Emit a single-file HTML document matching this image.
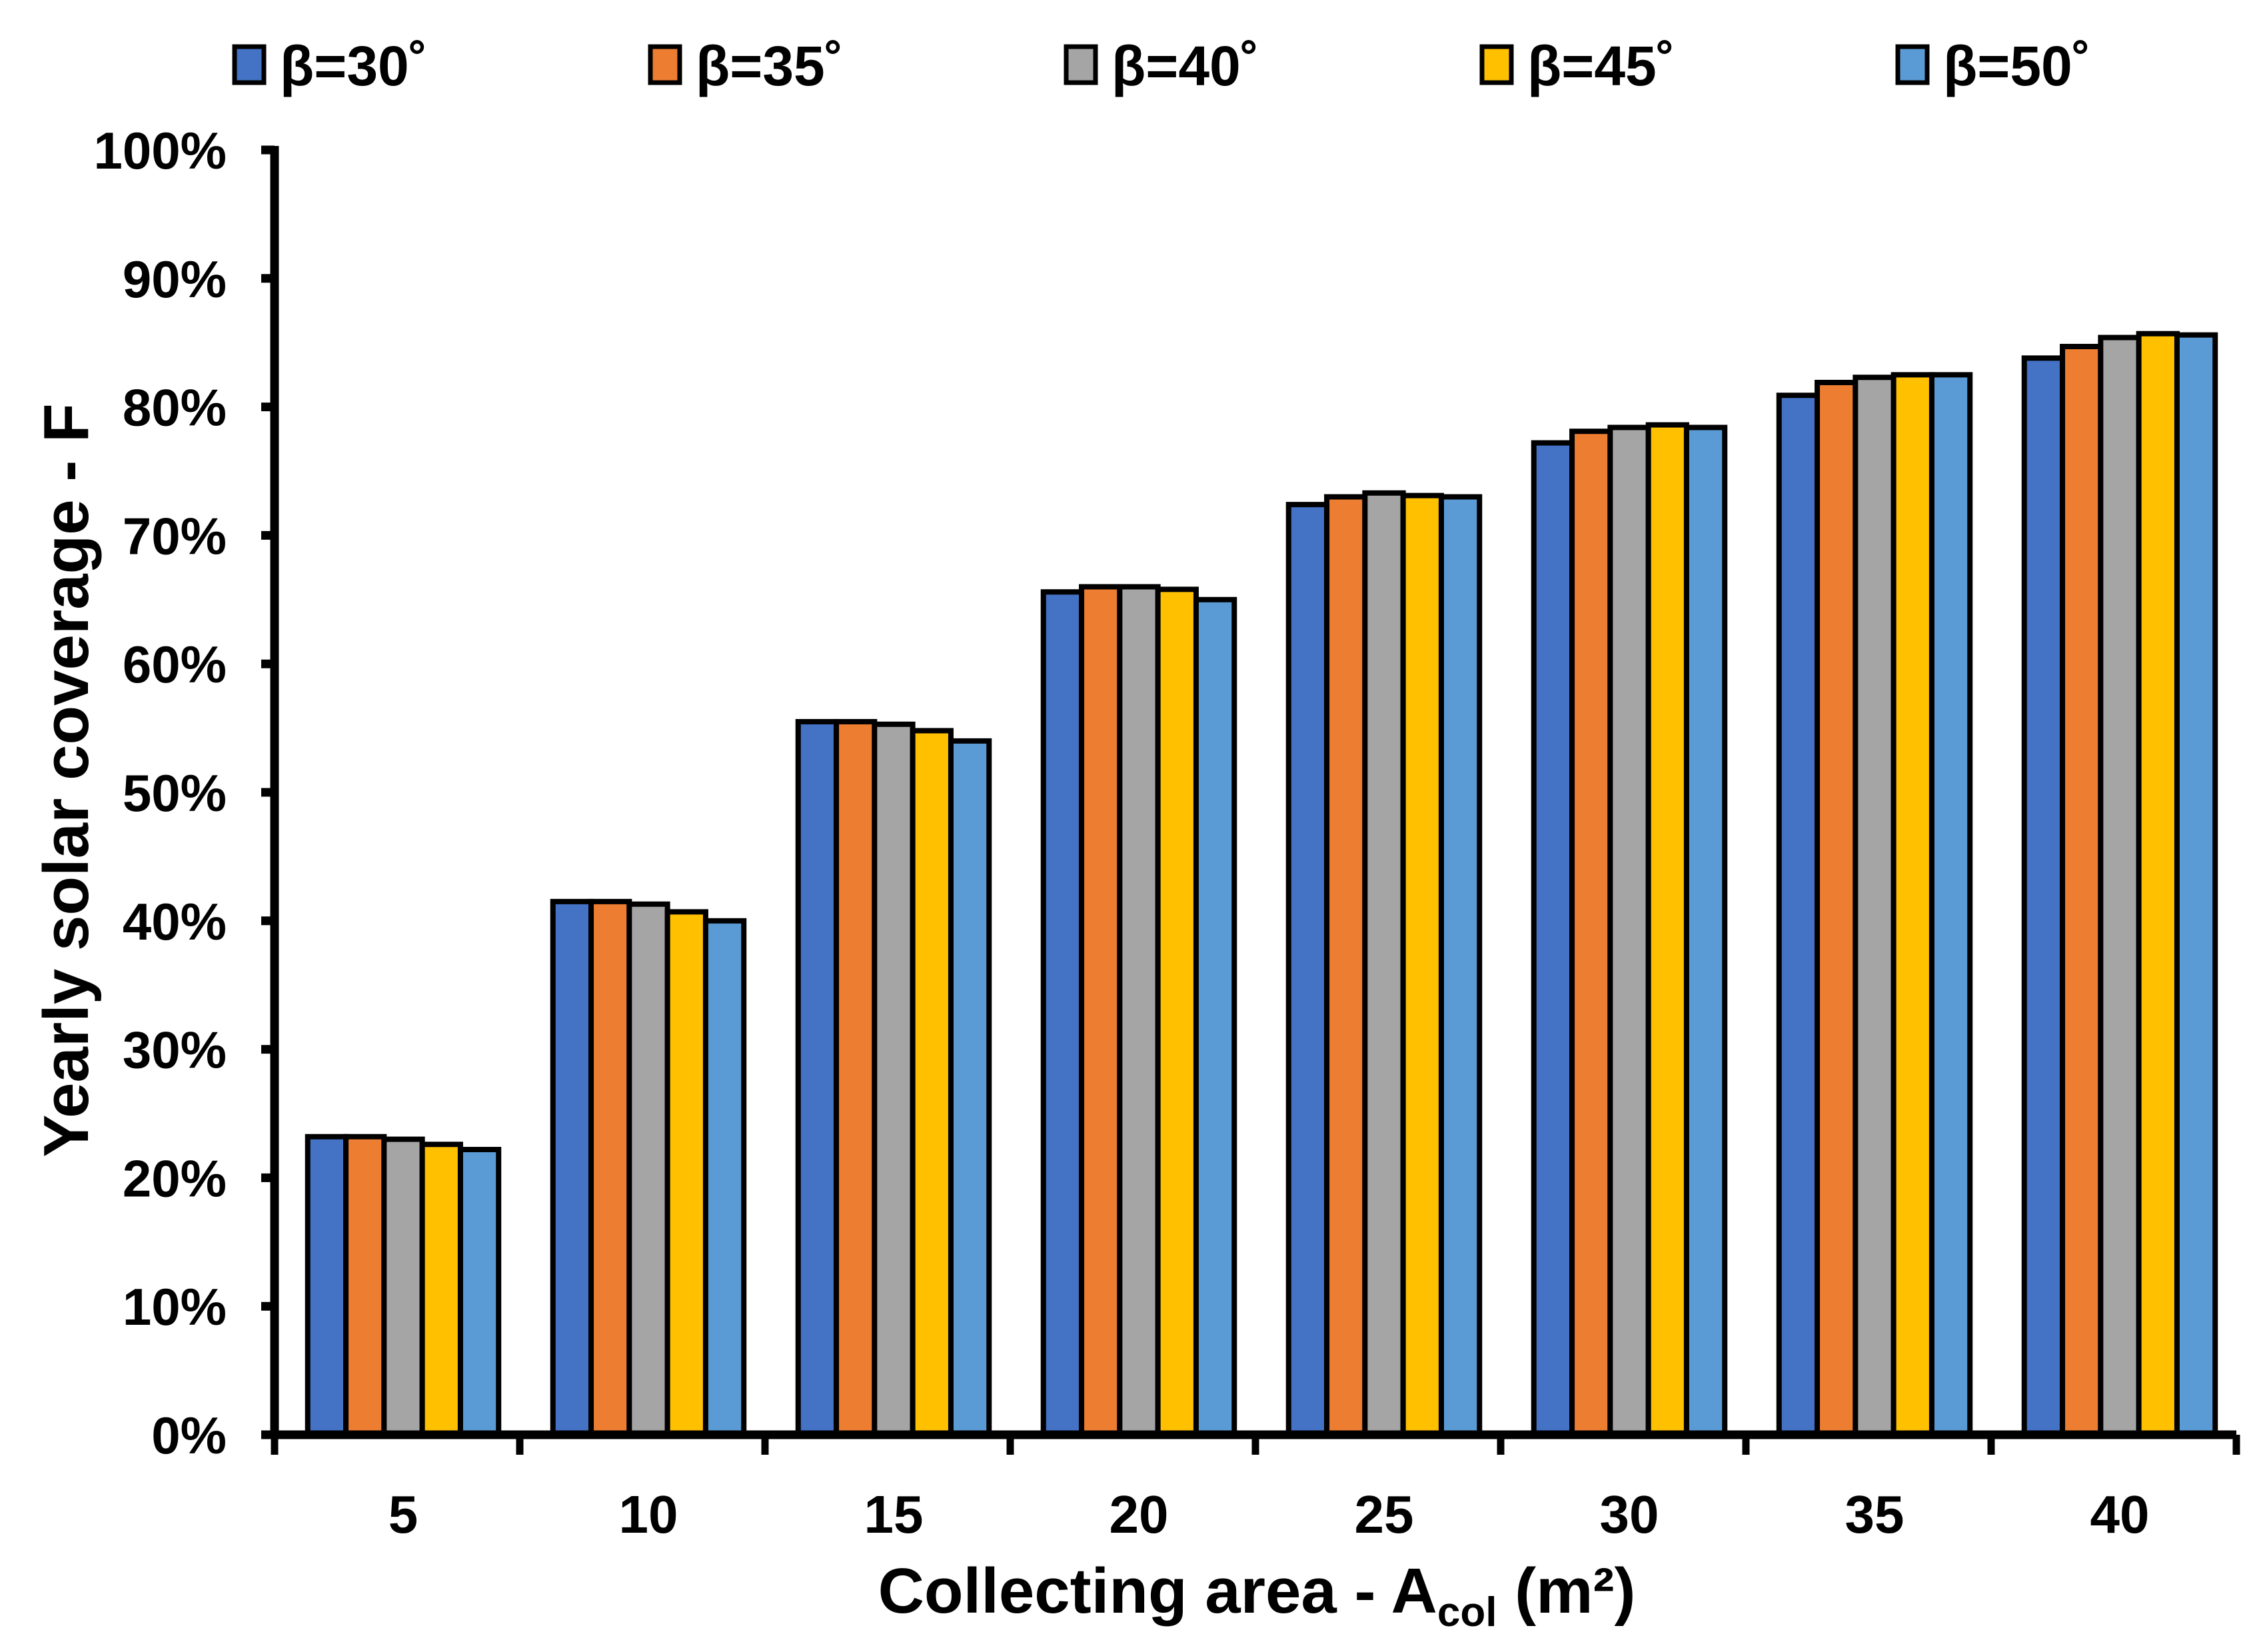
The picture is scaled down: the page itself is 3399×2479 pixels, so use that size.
<!DOCTYPE html>
<html><head><meta charset="utf-8"><style>
html,body{margin:0;padding:0;background:#fff;}
svg{display:block;font-family:"Liberation Sans",sans-serif;font-weight:bold;}
</style></head><body>
<svg id="chart" width="3399" height="2479" viewBox="0 0 3399 2479" xmlns="http://www.w3.org/2000/svg">
<rect width="3399" height="2479" fill="#fff"/>
<g id="bars"></g>
<g id="axes"></g>
<g id="legend"></g>
<text transform="translate(132,1171) rotate(-90)" text-anchor="middle" font-size="96">Yearly solar coverage - F</text>
<text x="1886" y="2420" text-anchor="middle" font-size="96">Collecting area - A<tspan font-size="62" dy="20">col</tspan><tspan dy="-20"> (m²)</tspan></text>
</svg>
<script>
const categories = ["5","10","15","20","25","30","35","40"];
const seriesNames = ["β=30˚","β=35˚","β=40˚","β=45˚","β=50˚"];
const s30 = [23.2,41.5,55.5,65.6,72.4,77.2,80.9,83.8];
const s35 = [23.2,41.5,55.5,66.0,73.0,78.1,81.9,84.7];
const s40 = [23.0,41.3,55.3,66.0,73.3,78.4,82.3,85.4];
const s45 = [22.6,40.7,54.8,65.8,73.1,78.6,82.5,85.7];
const s50 = [22.2,40.0,54.0,65.0,73.0,78.4,82.5,85.6];
const yTicks = [0,10,20,30,40,50,60,70,80,90,100];
const series = [s30,s35,s40,s45,s50];
const colors = ["#4472c4","#ed7d31","#a5a5a5","#ffc000","#5b9bd5"];
const NS="http://www.w3.org/2000/svg";
const X0=412, X1=3356, Y0=2153, Y100=225;
const catW=(X1-X0)/categories.length;
const yScale=v=>Y0-(v/100)*(Y0-Y100);
const xCat=i=>X0+catW*i;
const barW=57.3;
function mk(tag,attrs,parent){const e=document.createElementNS(NS,tag);for(const k in attrs)e.setAttribute(k,attrs[k]);parent.appendChild(e);return e;}
const bars=document.getElementById('bars');
categories.forEach((c,i)=>{
  const gx=xCat(i)+catW/2-barW*series.length/2+9;
  series.forEach((s,j)=>{
    const y=yScale(s[i]);
    const r=mk('rect',{x:gx+j*barW,y:y,width:barW,height:Y0-y,fill:colors[j],stroke:'#000','stroke-width':8},bars);
    
    
  });
});
const axes=document.getElementById('axes');
let l=mk('line',{x1:X0,y1:Y100-6,x2:X0,y2:Y0+6,stroke:'#000','stroke-width':13},axes);


l=mk('line',{x1:X0-18,y1:Y0,x2:X1,y2:Y0,stroke:'#000','stroke-width':13},axes);


yTicks.forEach(v=>{
  const y=yScale(v);
  const t=mk('line',{x1:X0-20,y1:y,x2:X0,y2:y,stroke:'#000','stroke-width':13},axes);
  
  
  const tx=mk('text',{x:340,y:y+28,'text-anchor':'end','font-size':78},axes);
  tx.textContent=v+'%';
  
  
});
for(let i=0;i<=categories.length;i++){
  const x=xCat(i);
  const t=mk('line',{x1:x,y1:Y0,x2:x,y2:Y0+30,stroke:'#000','stroke-width':11},axes);
  
  
}
categories.forEach((c,i)=>{
  const tx=mk('text',{x:xCat(i)+catW/2+9,y:2300,'text-anchor':'middle','font-size':80},axes);
  tx.textContent=c;
  
  
});
const legend=document.getElementById('legend');
seriesNames.forEach((n,j)=>{
  const bx=352+j*624;
  const g=mk('g',{},legend);
  
  
  mk('rect',{x:bx,y:70,width:44,height:54,fill:colors[j],stroke:'#000','stroke-width':7},g);
  const t=mk('text',{x:bx+68,y:128,'font-size':84},g);
  t.textContent=n;
});
</script>
</body></html>
